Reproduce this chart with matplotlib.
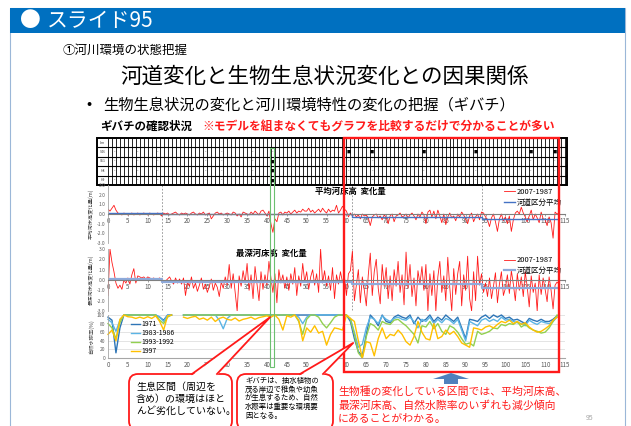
import numpy as np
import matplotlib.pyplot as plt
from matplotlib.patches import Rectangle, FancyBboxPatch, Polygon, FancyArrow

plt.rcParams['font.family'] = ['Noto Sans CJK JP', 'DejaVu Sans']

W, H = 631, 426

# --- mean bed level change 2007-1987 (m), every 0.5 km ---
mean_bed_change = [
    0.5, 0.3, 0.6, 0.9, 0.4, 0.1, 0.0, -0.1, 0.1, 0.0, -0.1, 0.0, 0.1, -0.1, 0.0, 0.1, -0.1, 0.0, 0.1, 0.0,
    -0.1, 0.1, 0.0, -0.1, 0.0, 0.1, 0.0, -0.2, 0.1, 0.0, 0.1, -0.1, 0.0, 0.1, 0.2, 0.0, -0.1, 0.1, 0.0, 0.1,
    0.0, -0.1, 0.1, 0.2, 0.0, -0.1, 0.1, 0.0, 0.2, -0.1, 0.0, 0.1, -0.5, -0.2, 0.1, 0.2, 0.0, 0.1, -0.1, 0.0,
    0.1, 0.0, -0.1, 0.2, 0.1, -0.2, 0.0, -0.3, 0.2, 0.1, 0.0, -0.1, 0.2, 0.0, 0.3, 0.1, -0.1, 0.3, 0.4, 0.1,
    -0.2, 0.3, -1.0, -1.9, -0.5, -0.8, 0.1, 0.2, -0.1, 0.2, 0.1, 0.3, 0.0, 0.2, 0.4, 0.1, 0.3, 0.2, 0.5, 0.3,
    0.3, 0.6, 0.2, 0.4, 0.1, 0.3, 0.5, 0.2, 0.6, 0.3, 0.1, 0.5, 0.2, 0.4, 0.3, 0.9, 0.1, 0.4, 0.8, 0.5,
    0.3, -0.3, 0.1, -0.2, 0.0, -0.3, -0.1, -0.5, 0.0, -0.2, -0.1, -0.4, -1.2, -0.3, -0.1, 0.0, -0.4, -0.2, -0.6, -0.1,
    -0.3, -1.0, -0.2, 0.0, -0.8, -0.2, -0.1, 0.1, -0.3, -0.2, 0.0, -0.4, -0.1, 0.1, -0.2, -0.6, 0.0, -0.3, 0.2, -0.1,
    -1.0, 0.2, 0.4, -0.3, 0.3, -0.5, 0.4, -0.2, -0.9, 0.0, -1.1, -0.3, 0.1, -0.4, -0.2, -0.7, 0.0, -0.3, 0.2, -0.1,
    -0.5, -1.0, -0.2, 0.1, -0.8, -0.3, 0.0, -0.6, 0.2, 0.1, -0.3, -0.6, -1.3, -0.4, 0.0, -0.8, -1.8, -0.5, 0.0, -0.7,
    -0.3, -1.0, -0.2, -1.8, -0.6, 0.1, 0.3, 0.0, 0.7, 0.1, -0.3, -0.8, -0.2, 0.4, -0.6, 0.0, -0.4, -0.9, 0.2, -0.5,
    -0.6, -1.2, -0.3, -0.9, -2.5, 0.2, 0.0, 0.1,
]

# --- deepest bed level change 2007-1987 (m), every 0.5 km ---
deep_bed_change = [
    -1.5, 3.0, 1.7, 0.8, -0.3, -0.8, -0.5, -0.9, 0.0, -0.3, 0.2, -0.4, 0.5, 1.1, -0.3, 0.4, 0.3, 0.2, 0.3, 0.1,
    0.3, 0.2, 0.1, 0.2, 0.0, 0.1, 0.2, -0.1, -0.2, -0.1, 0.1, 0.3, -0.1, -0.4, 0.2, -0.3, 0.1, -0.4, 0.2, -1.5,
    -0.2, -0.6, 0.3, -0.8, -0.3, -1.1, -0.5, 0.2, -0.9, -0.4, -1.2, -0.6, 0.1, -1.0, -0.3, -0.7, -1.6, -0.2, -0.8, 0.3,
    -0.5, 1.5, -0.8, 0.6, -1.2, -3.0, 0.4, -0.6, 0.9, -0.3, 1.6, -1.0, 0.5, -1.8, 1.3, -0.4, -2.0, 0.8, -0.9, 0.5,
    -0.5, 1.8, 0.2, -1.2, 0.6, -2.2, 1.0, -0.3, 0.5, -0.8, 0.3, -1.0, 0.6, -0.4, 1.2, -1.5, 0.4, -0.6, 1.6, -0.2,
    0.8, -0.9, 0.3, 1.0, -0.5, 0.6, -1.2, 3.0, -0.3, 0.9, -0.6, 0.4, -1.0, 1.2, -1.8, 0.5, -0.4, 0.8, -0.2, 0.3,
    -1.5, 0.6, 0.9, 2.8, -2.0, -0.5, 1.0, -2.2, 0.3, -1.0, -2.5, 0.5, 2.6, -1.5, 0.8, 2.0, -0.8, -2.3, 1.5, -0.6,
    1.2, -1.8, 0.4, -2.0, 1.0, -0.6, 1.8, -1.2, 0.5, -2.4, 2.7, -0.8, 1.5, -1.6, 0.2, -2.5, 0.9, -0.4, 1.3, -1.0,
    1.5, -3.0, 0.6, -1.5, 0.9, -3.0, 0.3, 1.8, -1.2, 0.4, -2.0, 2.2, -0.7, -3.0, 1.1, -1.4, 0.6, 1.8, -2.5, 0.5,
    -1.0, 2.3, -1.8, -3.0, 0.8, -2.0, 2.3, -0.5, 0.6, -1.2, -0.3, -1.6, 0.2, -1.8, -0.6, 0.7, -2.2, -0.4, 0.8, -1.5,
    -0.8, 0.5, -1.3, 0.9, -0.4, -2.0, 0.6, -1.0, 0.3, -1.6, 0.8, -0.7, -2.6, 0.4, -1.2, -0.3, -3.0, 0.5, -1.4, 0.2,
    -0.9, -2.1, 0.3, -1.0, -2.8, -0.5, -0.2, -0.4,
]
km_fine = np.arange(len(mean_bed_change)) * 0.5

# river segment averages
segment_edges = [0, 13.5, 61.5, 94, 113.5]
mean_bed_seg_avg = [0.1, -0.03, -0.35, -0.5]
deep_bed_seg_avg = [0.1, -0.2, -0.4, -0.75]

# --- natural waterside ratio (%), every 1 km ---
nan = np.nan
water_1971 = [
    95, 88, 12, 70, 100, 100, 100, 100, 100, 100,
    100, 100, 100, 95, 88, 100, 100, nan, nan, 100,
    100, 100, 100, 100, 100, 100, 100, 100, 100, 100,
    100, 100, 100, 100, 100, 100, 100, 100, 100, 100,
    100, 100, 100, 100, 100, 100, 100, 100, 100, 100,
    100, 100, 100, 100, 100, 100, 100, 100, 100, 100,
    100, 85, 45, 15, 5, 55, 100, 90, 75, 100,
    85, 82, 95, 100, 95, 92, 100, 80, 95, 85,
    90, 100, 85, 95, 88, 100, 92, 85, 95, 70,
    45, 90, 88, 85, 95, 100, 92, 100, 95, 100,
    92, 95, 88, 90, 85, 80, 92, 88, 85, 90,
    85, 85, 90, 98,
]
water_1983_1986 = [
    90, 82, 62, 88, 100, 100, 100, 100, 100, 100,
    100, 100, 100, 95, 85, 100, 100, nan, nan, 100,
    100, 100, 100, 100, 100, 100, 100, 100, 88, 68,
    92, 100, 100, 100, 100, 100, 100, 100, 100, 100,
    100, 100, 100, 100, 100, 100, 100, 100, 95, 80,
    95, 100, 100, 100, 100, 100, 100, 100, 100, 100,
    98, 92, 60, 25, 32, 70, 95, 90, 80, 98,
    90, 85, 92, 95, 90, 88, 95, 85, 70, 90,
    85, 95, 80, 90, 82, 92, 88, 80, 90, 65,
    40, 85, 80, 75, 88, 92, 85, 90, 85, 95,
    88, 90, 85, 82, 80, 75, 88, 82, 78, 85,
    82, 80, 85, 95,
]
water_1993_1992 = [
    80, 70, 45, 82, 100, 100, 100, 100, 100, 100,
    100, 100, 100, 88, 80, 95, 100, nan, nan, 100,
    100, 100, 100, 100, 100, 100, 100, 100, 100, 100,
    100, 100, 100, 100, 100, 100, 100, 100, 100, 100,
    100, 100, 100, 100, 100, 100, 100, 100, 85, 55,
    90, 100, 100, 95, 80, 70, 82, 95, 100, 100,
    100, 90, 55, 12, 0, 50, 80, 75, 65, 85,
    80, 78, 88, 90, 82, 75, 65, 55, 35, 75,
    72, 85, 68, 80, 62, 55, 75, 70, 60, 45,
    32, 35, 28, 62, 55, 58, 62, 70, 68, 78,
    75, 80, 78, 85, 72, 78, 70, 65, 62, 58,
    60, 70, 85, 100,
]
water_1997 = [
    55, 65, 40, 90, 100, 96, 95, 92, 95, 92,
    96, 92, 98, 85, 65, 98, 100, nan, nan, 95,
    92, 95, 97, 90, 93, 88, 95, 85, 92, 95,
    90, 88, 93, 86, 90, 92, 95, 90, 94, 96,
    98, 95, 100, 90, 65, 98, 95, 100, 88, 40,
    70, 60, 75, 58, 62, 30, 55, 70, 68, 65,
    100, 92, 85, 40, 0, 38, 35, 5, 45, 70,
    45, 55, 52, 65, 55, 38, 30, 50, 85, 60,
    45, 42, 80, 45, 50, 65, 55, 62, 50, 35,
    30, 25, 70, 68, 65, 72, 75, 70, 78, 85,
    82, 88, 80, 85, 78, 82, 72, 65, 60, 62,
    68, 75, 88, 95,
]
km_coarse = np.arange(len(water_1971))

# --- ギバチ survey table ---
table_rows = ['km', 'S46', 'S61', 'H4', 'H9']
survey_km = [1, 7, 12, 24, 28, 36, 41, 55, 60, 66, 79, 92, 106, 112]
found_km = {'S46': [60, 66, 79, 92, 106, 112], 'S61': [41], 'H4': [41], 'H9': [41]}

highlight_km = [59.5, 113.4]
habitat_km = [40.8, 41.8]
pointer_tips = [(40.8, 95), (61.7, 35)]

RED = '#ff1a1a'

fig = plt.figure(figsize=(W / 100, H / 100), dpi=100)


def px_axes(x0, y0, x1, y1, **kw):
    return fig.add_axes([x0 / W, 1 - y1 / H, (x1 - x0) / W, (y1 - y0) / H], **kw)


ax_bg = fig.add_axes([0, 0, 1, 1], zorder=-1)
ax_bg.set_xlim(0, W)
ax_bg.set_ylim(H, 0)
ax_bg.axis('off')

# slide frame and header
ax_bg.add_patch(Rectangle((10, 8), 615, 440, fill=False, ec='#9bb7d8', lw=0.8))
ax_bg.add_patch(Rectangle((10, 8), 615, 25, fc='#0070c0', ec='none'))
ax_bg.text(20, 21.5, '●', color='white', fontsize=15, va='center', ha='left')
ax_bg.text(47, 21.5, 'スライド95', color='white', fontsize=15, va='center', ha='left')
ax_bg.text(63, 50, '①河川環境の状態把握', fontsize=9, va='center', ha='left')
ax_bg.text(325, 77, '河道変化と生物生息状況変化との因果関係', fontsize=15.5, va='center', ha='center')
ax_bg.text(86, 105, '•', fontsize=11, va='center', ha='left')
ax_bg.text(103, 105, '生物生息状況の変化と河川環境特性の変化の把握（ギバチ）', fontsize=11, va='center', ha='left')
ax_bg.text(100, 126, 'ギバチの確認状況', fontsize=8.3, weight='bold', va='center', ha='left')
ax_bg.text(202, 126, '※モデルを組まなくてもグラフを比較するだけで分かることが多い',
           fontsize=8.5, weight='bold', color=RED, va='center', ha='left')

# --- survey table ---
ax_tab = px_axes(97, 138, 567, 185)
ax_tab.set_xlim(-2.8, 115.6)
ax_tab.set_ylim(len(table_rows), 0)
ax_tab.axis('off')
ax_tab.vlines(range(0, 116), 0, len(table_rows), color='black', lw=0.6)
ax_tab.hlines(range(1, len(table_rows)), -2.8, 115.6, color='black', lw=0.8)
ax_tab.add_patch(Rectangle((-2.8, 0), 118.4, len(table_rows), fill=False, ec='black', lw=1.4, clip_on=False))
for i, name in enumerate(table_rows):
    ax_tab.text(-1.4, i + 0.5, name, fontsize=2.5, ha='center', va='center', color='#404040')
    if name in found_km:
        for k in survey_km:
            mark = '■' if k in found_km[name] else '-'
            ax_tab.text(k + 0.5, i + 0.5, mark, fontsize=3, ha='center', va='center')


def style_change_panel(ax, ylabel):
    ax.set_facecolor('none')
    ax.set_xlim(0, 115)
    ax.set_ylim(-3, 3)
    for s in ['top', 'right']:
        ax.spines[s].set_visible(False)
    ax.spines['bottom'].set_position(('data', 0))
    ax.spines['bottom'].set_color('#7f7f7f')
    ax.spines['bottom'].set_linewidth(0.8)
    ax.spines['left'].set_color('#a6a6a6')
    ax.spines['left'].set_linewidth(0.6)
    ax.set_xticks(range(0, 116, 5))
    yt = np.arange(-3, 3.1, 1.0)
    ax.set_yticks(yt)
    ax.set_yticklabels(['%.1f' % v for v in yt])
    ax.tick_params(axis='x', labelsize=4.5, length=1.5, width=0.4, pad=1, colors='#595959')
    ax.tick_params(axis='y', labelsize=3.5, length=0, pad=2, colors='#595959')
    ax.set_ylabel(ylabel, fontsize=3.8, labelpad=2, color='#404040')


# --- mean bed change ---
ax1 = px_axes(108, 185, 565, 243)
style_change_panel(ax1, '平均河床高変化量(m)')
ax1.plot(km_fine, mean_bed_change, color=RED, lw=0.6, label='2007-1987')
ax1.step(segment_edges, mean_bed_seg_avg + [mean_bed_seg_avg[-1]], where='post',
         color='#4472c4', lw=1.0, label='河道区分平均')
ax1.text(61, 2.35, '平均河床高  変化量', fontsize=6, weight='bold', ha='center', va='center')
ax1.legend(loc='upper right', bbox_to_anchor=(1.0, 1.0), fontsize=5.4, frameon=False,
           handlelength=1.5, labelspacing=0.35, borderaxespad=0, handletextpad=0.3)

# --- deepest bed change ---
ax2 = px_axes(108, 249, 565, 311)
style_change_panel(ax2, '最深河床高変化量(m)')
ax2.plot(km_fine, deep_bed_change, color=RED, lw=0.6, label='2007-1987')
ax2.step(segment_edges, deep_bed_seg_avg + [deep_bed_seg_avg[-1]], where='post',
         color='#8eaadb', lw=1.6, label='河道区分平均')
ax2.text(41, 2.6, '最深河床高  変化量', fontsize=6, weight='bold', ha='center', va='center')
ax2.legend(loc='upper right', bbox_to_anchor=(1.0, 0.93), fontsize=5.4, frameon=False,
           handlelength=1.5, labelspacing=0.35, borderaxespad=0, handletextpad=0.3)

# --- natural waterside ratio ---
ax3 = px_axes(108, 315, 565, 358)
ax3.set_facecolor('none')
ax3.set_xlim(0, 115)
ax3.set_ylim(0, 100)
for s in ['top', 'right']:
    ax3.spines[s].set_visible(False)
ax3.spines['bottom'].set_color('#a6a6a6')
ax3.spines['left'].set_color('#a6a6a6')
ax3.spines['left'].set_linewidth(0.6)
ax3.set_xticks(range(0, 116, 5))
ax3.set_yticks(range(0, 101, 20))
ax3.grid(axis='y', color='#d9d9d9', lw=0.5)
ax3.set_axisbelow(True)
ax3.tick_params(axis='x', labelsize=4.5, length=0, pad=2, colors='#595959')
ax3.tick_params(axis='y', labelsize=3.5, length=0, pad=2, colors='#595959')
ax3.set_ylabel('自然水際率(%)', fontsize=3.8, labelpad=2, color='#404040')
ax3.plot(km_coarse, water_1971, color='#2e75b6', lw=1.0, label='1971', clip_on=False)
ax3.plot(km_coarse, water_1983_1986, color='#5bb4e5', lw=1.0, label='1983-1986', clip_on=False)
ax3.plot(km_coarse, water_1993_1992, color='#92d050', lw=1.0, label='1993-1992', clip_on=False)
ax3.plot(km_coarse, water_1997, color='#ffc000', lw=1.0, label='1997', clip_on=False)
ax3.legend(loc='lower left', bbox_to_anchor=(0.045, 0.0), fontsize=5, frameon=False,
           handlelength=1.2, labelspacing=0.15, borderaxespad=0, handletextpad=0.3)


def km_to_px(km):
    return ax1.transData.transform((km, 0))[0]


def data_to_px(ax, x, y):
    dx, dy = ax.transData.transform((x, y))
    return dx, H - dy


# segment boundaries (dashed)
for b in segment_edges[1:-1]:
    xb = km_to_px(b)
    ax_bg.plot([xb, xb], [185, 311], color='#8c8c8c', lw=0.6, ls=(0, (2, 2)))

# --- overlay: highlight boxes, callouts ---
ax_top = fig.add_axes([0, 0, 1, 1], zorder=10)
ax_top.set_xlim(0, W)
ax_top.set_ylim(H, 0)
ax_top.axis('off')
ax_top.patch.set_alpha(0)

gx0, gx1 = km_to_px(habitat_km[0]), km_to_px(habitat_km[1])
ax_top.add_patch(Rectangle((gx0, 148), gx1 - gx0, 367 - 148, fill=False, ec='#6cc070', lw=0.8))

rx0, rx1 = km_to_px(highlight_km[0]), km_to_px(highlight_km[1])
ax_top.add_patch(Rectangle((rx0, 138), rx1 - rx0, 372 - 138, fill=False, ec=RED, lw=1.7))


def callout(box, base, tip, text, text_xy, fs, spacing):
    x0, y0, x1, y1 = box
    ax_top.add_patch(FancyBboxPatch((x0, y0), x1 - x0, y1 - y0,
                                    boxstyle='round,pad=0,rounding_size=9',
                                    fc='white', ec=RED, lw=1.3, zorder=3))
    ax_top.add_patch(Polygon([(base[0], y0 + 1.5), tip, (base[1], y0 + 1.5)], closed=True,
                             fc='white', ec='none', zorder=4))
    ax_top.plot([base[0], tip[0], base[1]], [y0, tip[1], y0], color=RED, lw=1.3, zorder=5)
    ax_top.text(text_xy[0], text_xy[1], text, fontsize=fs, ha='left', va='top',
                linespacing=spacing, zorder=6)


tip1 = data_to_px(ax3, *pointer_tips[0])
tip2 = data_to_px(ax3, *pointer_tips[1])
callout((129, 374, 232, 430), (192, 217), tip1,
        '生息区間（周辺を\n含め）の環境はほと\nんど劣化していない。', (136, 382), 7.2, 1.25)
callout((237, 374, 333, 430), (300, 323), tip2,
        'ギバチは、抽水植物の\n茂る岸辺で稚魚や幼魚\nが生息するため、自然\n水際率は重要な環境要\n因となる。',
        (245, 377), 5.3, 1.12)

ax_top.add_artist(FancyArrow(451, 384, 0, -11, width=14, head_width=36, head_length=6,
                             length_includes_head=True, fc='#4f81bd', ec='none'))

ax_top.text(338, 405, '生物種の変化している区間では、平均河床高、\n最深河床高、自然水際率のいずれも減少傾向\nにあることがわかる。',
            fontsize=7.8, color=RED, ha='left', va='center', linespacing=1.35)
ax_top.text(590, 418, '95', fontsize=5, color='#a6a6a6', ha='center', va='center')

fig.savefig('out.png', dpi=100)
